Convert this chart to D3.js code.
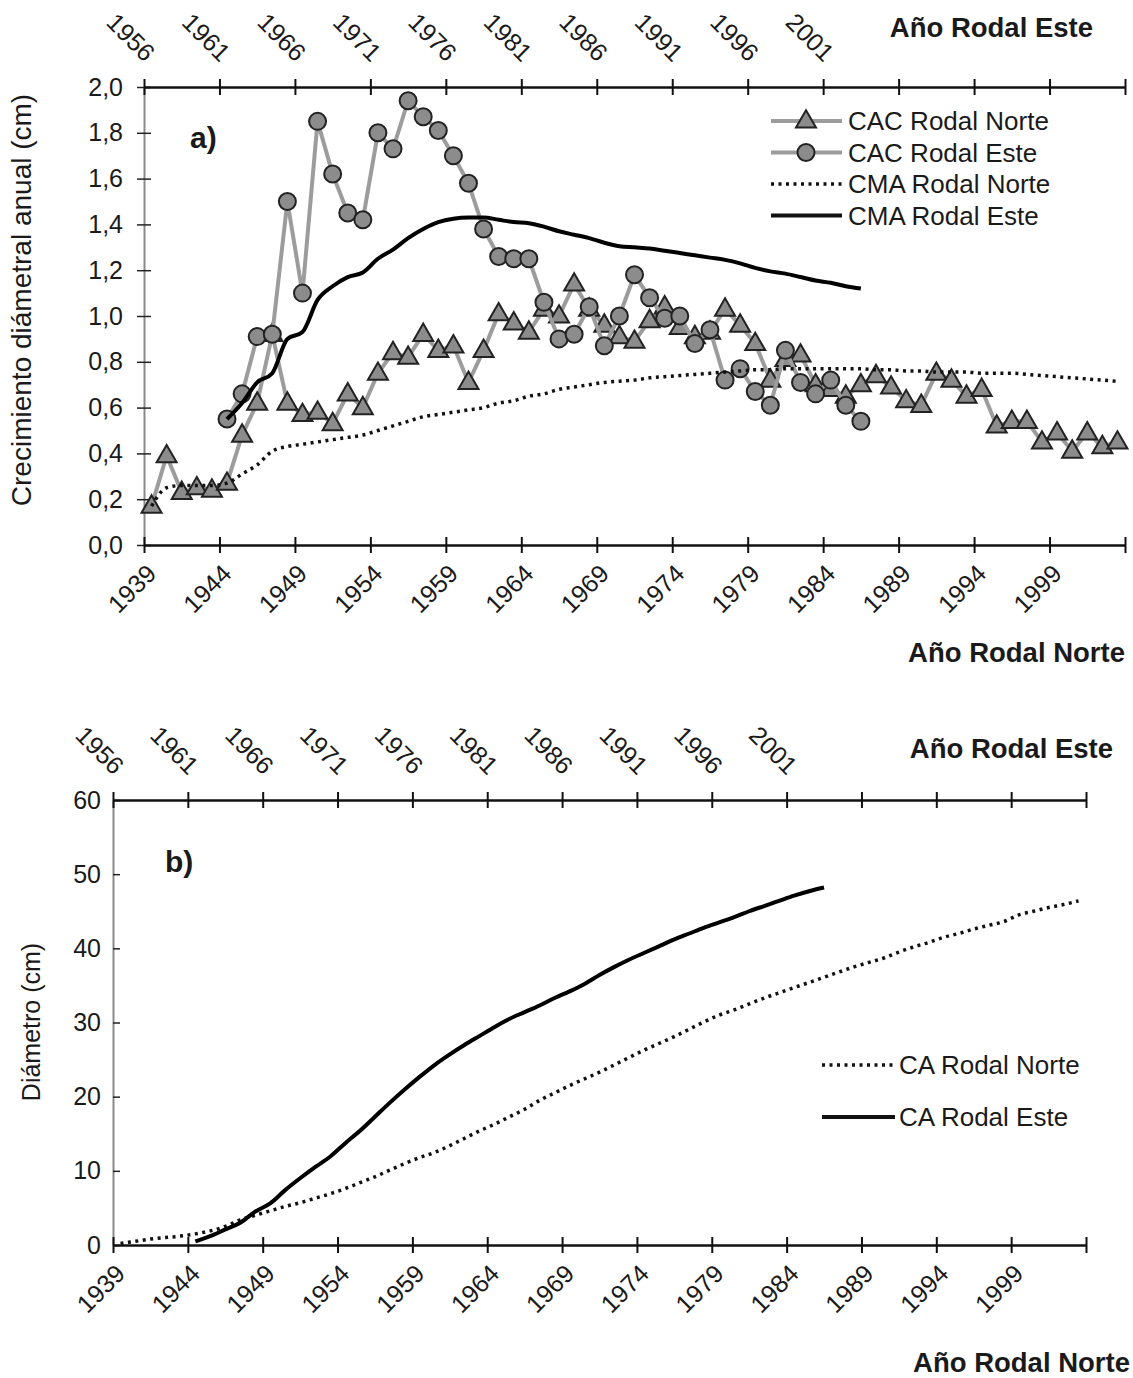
<!DOCTYPE html>
<html>
<head>
<meta charset="utf-8">
<script src="https://cdn.jsdelivr.net/npm/d3@7"></script>
<style>
  body { margin: 0; background: #fff; }
  text { font-family: "Liberation Sans", Arial, sans-serif; fill: #1a1a1a; }
</style>
</head>
<body>
<svg id="chart" width="1133" height="1378"></svg>
<script>
// tick labels of both year axes
var labelsNorte = [1939, 1944, 1949, 1954, 1959, 1964, 1969, 1974, 1979, 1984, 1989, 1994, 1999];
var labelsEste = [1956, 1961, 1966, 1971, 1976, 1981, 1986, 1991, 1996, 2001];
var ticksA = [0, 0.2, 0.4, 0.6, 0.8, 1.0, 1.2, 1.4, 1.6, 1.8, 2.0];
var ticksB = [0, 10, 20, 30, 40, 50, 60];

// first year of each stand
var norteStart = 1939;
var esteStart = 1961;

// CAC: annual diameter growth (cm), Rodal Norte 1939-2003
var cacNorte = [0.17, 0.39, 0.23, 0.25, 0.24, 0.27, 0.48, 0.62, 0.92, 0.62,
  0.57, 0.58, 0.53, 0.66, 0.60, 0.75, 0.84, 0.82, 0.92, 0.85,
  0.87, 0.71, 0.85, 1.01, 0.97, 0.93, 1.03, 1.00, 1.14, 1.03,
  0.96, 0.91, 0.89, 0.98, 1.04, 0.95, 0.91, 0.93, 1.03, 0.96,
  0.88, 0.72, 0.81, 0.83, 0.70, 0.68, 0.65, 0.70, 0.74, 0.69,
  0.63, 0.61, 0.75, 0.72, 0.65, 0.68, 0.52, 0.54, 0.54, 0.45,
  0.49, 0.41, 0.49, 0.43, 0.45];

// CAC Rodal Este 1961-2003
var cacEste = [0.55, 0.66, 0.91, 0.92, 1.50, 1.10, 1.85, 1.62, 1.45, 1.42,
  1.80, 1.73, 1.94, 1.87, 1.81, 1.70, 1.58, 1.38, 1.26, 1.25,
  1.25, 1.06, 0.90, 0.92, 1.04, 0.87, 1.00, 1.18, 1.08, 0.99,
  1.00, 0.88, 0.94, 0.72, 0.77, 0.67, 0.61, 0.85, 0.71, 0.66,
  0.72, 0.61, 0.54];

// CMA: mean annual growth (cm)
var cmaNorte = [0.17, 0.25, 0.26, 0.26, 0.26, 0.27, 0.31, 0.35, 0.41, 0.43,
  0.44, 0.45, 0.46, 0.47, 0.48, 0.50, 0.52, 0.54, 0.56, 0.57,
  0.58, 0.59, 0.60, 0.62, 0.63, 0.65, 0.66, 0.68, 0.69, 0.70,
  0.71, 0.715, 0.72, 0.73, 0.735, 0.74, 0.745, 0.75, 0.755, 0.76,
  0.765, 0.765, 0.77, 0.77, 0.77, 0.77, 0.77, 0.77, 0.765, 0.765,
  0.76, 0.76, 0.755, 0.755, 0.755, 0.75, 0.75, 0.75, 0.745, 0.74,
  0.735, 0.73, 0.725, 0.72, 0.715];

var cmaEste = [0.55, 0.62, 0.71, 0.75, 0.90, 0.93, 1.07, 1.13, 1.17, 1.19,
  1.25, 1.29, 1.34, 1.38, 1.41, 1.425, 1.43, 1.43, 1.42, 1.41,
  1.405, 1.39, 1.37, 1.355, 1.34, 1.32, 1.305, 1.30, 1.295, 1.285,
  1.275, 1.265, 1.255, 1.245, 1.23, 1.21, 1.195, 1.185, 1.17, 1.155,
  1.145, 1.13, 1.12];

// CA: accumulated diameter (cm)
var caNorte = [0.2, 0.5, 0.8, 1.0, 1.2, 1.5, 1.9, 2.5, 3.4, 4.0,
  4.6, 5.2, 5.7, 6.3, 6.9, 7.6, 8.4, 9.2, 10.1, 11.0,
  11.8, 12.5, 13.4, 14.4, 15.4, 16.3, 17.3, 18.3, 19.5, 20.5,
  21.5, 22.4, 23.3, 24.3, 25.3, 26.3, 27.2, 28.1, 29.1, 30.1,
  31.0, 31.7, 32.5, 33.3, 34.0, 34.7, 35.4, 36.1, 36.8, 37.5,
  38.1, 38.7, 39.5, 40.2, 40.8, 41.5, 42.0, 42.6, 43.1, 43.6,
  44.5, 45.0, 45.5, 45.9, 46.4];

var caEste = [0.5, 1.2, 2.1, 3.0, 4.5, 5.6, 7.4, 9.0, 10.5, 11.9,
  13.7, 15.4, 17.3, 19.2, 21.0, 22.7, 24.3, 25.7, 27.0, 28.2,
  29.4, 30.5, 31.4, 32.3, 33.3, 34.2, 35.2, 36.4, 37.5, 38.5,
  39.4, 40.3, 41.2, 42.0, 42.8, 43.5, 44.2, 45.0, 45.7, 46.4,
  47.1, 47.7, 48.2];

var svg = d3.select("#chart");

var lineGrey = "#9c9c9c";
var markFill = "#8c8c8c";
var markStroke = "#222";

function triPath(s) {
  var h = s * 0.87;
  return "M0," + (-h * 0.62) + "L" + (s / 2) + "," + (h * 0.38) + "L" + (-s / 2) + "," + (h * 0.38) + "Z";
}

// one horizontal year axis with crossing ticks and rotated labels
function yearAxis(x, y, domainStart, labels, top) {
  var bounds = [];
  for (var k = 0; k <= 13; k++) bounds.push(domainStart + k * 5);
  var axis = (top ? d3.axisTop(x) : d3.axisBottom(x))
    .tickValues(bounds)
    .tickFormat("")
    .tickSizeOuter(0)
    .tickSizeInner(8);
  var g = svg.append("g")
    .attr("transform", `translate(0, ${y})`)
    .call(axis);
  g.select(".domain").attr("stroke", "#111").attr("stroke-width", 2.5);
  g.selectAll(".tick line").attr("stroke", "#111").attr("stroke-width", 2)
    .attr("y1", top ? 8 : -8);

  svg.append("g").selectAll("text")
    .data(labels)
    .enter()
    .append("text")
    .attr("transform", function(d) {
      var cx = x(d + 0.5);
      return top
        ? `translate(${cx - 1}, ${y - 30}) rotate(45)`
        : `translate(${cx}, ${y + 24}) rotate(-45)`;
    })
    .attr("text-anchor", "end")
    .attr("dy", "0.35em")
    .style("font-size", "25px")
    .text(d => d);
}

function yAxis(y, x0, ticks, fmt, cross) {
  var g = svg.append("g")
    .attr("transform", `translate(${x0}, 0)`)
    .call(d3.axisLeft(y).tickValues(ticks).tickFormat(fmt).tickSizeOuter(0)
      .tickSizeInner(7).tickPadding(cross ? 14 : 5));
  g.select(".domain").attr("stroke", "#8a8a8a").attr("stroke-width", 2);
  g.selectAll(".tick line").attr("stroke", "#222").attr("stroke-width", 1.5)
    .attr("x1", cross ? 7 : 0).attr("x2", cross ? -7 : 7);
  g.selectAll(".tick text").style("font-size", "25px").attr("fill", "#1a1a1a")
    .style("font-family", '"Liberation Sans", Arial, sans-serif');
  return g;
}

// ---------- panel a ----------
var a = { left: 144, right: 1125, top: 87, bottom: 545 };
var xa = d3.scaleLinear().domain([1939, 2004]).range([a.left, a.right]);
var xaTop = d3.scaleLinear().domain([1956, 2021]).range([a.left, a.right]);
var ya = d3.scaleLinear().domain([0, 2]).range([a.bottom, a.top]);

yAxis(ya, a.left, ticksA, d => d.toFixed(1).replace(".", ","), true);
yearAxis(xa, a.bottom, 1939, labelsNorte, false);
yearAxis(xaTop, a.top, 1956, labelsEste, true);

var norteX = (d, i) => xa(norteStart + i + 0.5);
var esteX = (d, i) => xaTop(esteStart + i + 0.5);

var lineNorteA = d3.line().x(norteX).y(d => ya(d));
var lineEsteA = d3.line().x(esteX).y(d => ya(d));

// CAC Rodal Norte
svg.append("path").datum(cacNorte)
  .attr("d", lineNorteA).attr("fill", "none")
  .attr("stroke", lineGrey).attr("stroke-width", 4);
svg.append("g").selectAll("path")
  .data(cacNorte).enter().append("path")
  .attr("d", triPath(20))
  .attr("transform", (d, i) => `translate(${norteX(d, i)}, ${ya(d)})`)
  .attr("fill", markFill).attr("stroke", markStroke).attr("stroke-width", 2);

// CAC Rodal Este
svg.append("path").datum(cacEste)
  .attr("d", lineEsteA).attr("fill", "none")
  .attr("stroke", lineGrey).attr("stroke-width", 4);
svg.append("g").selectAll("circle")
  .data(cacEste).enter().append("circle")
  .attr("cx", esteX).attr("cy", d => ya(d)).attr("r", 8.5)
  .attr("fill", markFill).attr("stroke", markStroke).attr("stroke-width", 2);

// CMA lines
svg.append("path").datum(cmaNorte)
  .attr("d", lineNorteA.curve(d3.curveMonotoneX)).attr("fill", "none")
  .attr("stroke", "#111").attr("stroke-width", 3.5).attr("stroke-dasharray", "3 4.5");
svg.append("path").datum(cmaEste)
  .attr("d", lineEsteA.curve(d3.curveMonotoneX)).attr("fill", "none")
  .attr("stroke", "#000").attr("stroke-width", 4);

svg.append("text").attr("x", 190).attr("y", 148)
  .style("font-size", "30px").style("font-weight", "bold").text("a)");

svg.append("text")
  .attr("transform", "translate(31, 300) rotate(-90)")
  .attr("text-anchor", "middle")
  .style("font-size", "28px")
  .text("Crecimiento diámetral anual (cm)");

svg.append("text").attr("x", 1125).attr("y", 662).attr("text-anchor", "end")
  .style("font-size", "27.5px").style("font-weight", "bold").text("Año Rodal Norte");
svg.append("text").attr("x", 1093).attr("y", 37).attr("text-anchor", "end")
  .style("font-size", "27.5px").style("font-weight", "bold").text("Año Rodal Este");

// legend a
var legA = [
  { name: "CAC Rodal Norte", type: "tri" },
  { name: "CAC Rodal Este", type: "circ" },
  { name: "CMA Rodal Norte", type: "dot" },
  { name: "CMA Rodal Este", type: "solid" }
];
legA.forEach(function(item, i) {
  var cy = 121 + i * 31.5;
  var g = svg.append("g");
  if (item.type === "tri" || item.type === "circ") {
    g.append("line").attr("x1", 771).attr("x2", 842).attr("y1", cy).attr("y2", cy)
      .attr("stroke", lineGrey).attr("stroke-width", 4);
    if (item.type === "tri") {
      g.append("path").attr("d", triPath(20)).attr("transform", `translate(806, ${cy})`)
        .attr("fill", markFill).attr("stroke", markStroke).attr("stroke-width", 2);
    } else {
      g.append("circle").attr("cx", 806).attr("cy", cy).attr("r", 8.5)
        .attr("fill", markFill).attr("stroke", markStroke).attr("stroke-width", 2);
    }
  } else {
    g.append("line").attr("x1", 771).attr("x2", 842).attr("y1", cy).attr("y2", cy)
      .attr("stroke", "#111").attr("stroke-width", item.type === "dot" ? 3.5 : 4)
      .attr("stroke-dasharray", item.type === "dot" ? "3 4.5" : null);
  }
  g.append("text").attr("x", 848).attr("y", cy).attr("dy", "0.35em")
    .style("font-size", "26px").text(item.name);
});

// ---------- panel b ----------
var b = { left: 113, right: 1086, top: 800, bottom: 1245 };
var xb = d3.scaleLinear().domain([1939, 2004]).range([b.left, b.right]);
var xbTop = d3.scaleLinear().domain([1956, 2021]).range([b.left, b.right]);
var yb = d3.scaleLinear().domain([0, 60]).range([b.bottom, b.top]);

yAxis(yb, b.left, ticksB, d => d, false);
yearAxis(xb, b.bottom, 1939, labelsNorte, false);
yearAxis(xbTop, b.top, 1956, labelsEste, true);

svg.append("path").datum(caNorte)
  .attr("d", d3.line().x((d, i) => xb(norteStart + i + 0.5)).y(d => yb(d)).curve(d3.curveMonotoneX))
  .attr("fill", "none").attr("stroke", "#111").attr("stroke-width", 3.5)
  .attr("stroke-dasharray", "3 4.5");
svg.append("path").datum(caEste)
  .attr("d", d3.line().x((d, i) => xbTop(esteStart + i + 0.5)).y(d => yb(d)).curve(d3.curveMonotoneX))
  .attr("fill", "none").attr("stroke", "#000").attr("stroke-width", 4);

svg.append("text").attr("x", 165).attr("y", 872)
  .style("font-size", "30px").style("font-weight", "bold").text("b)");

svg.append("text")
  .attr("transform", "translate(40, 1022) rotate(-90)")
  .attr("text-anchor", "middle")
  .style("font-size", "25px")
  .text("Diámetro (cm)");

svg.append("text").attr("x", 1130).attr("y", 1372).attr("text-anchor", "end")
  .style("font-size", "27.5px").style("font-weight", "bold").text("Año Rodal Norte");
svg.append("text").attr("x", 1113).attr("y", 758).attr("text-anchor", "end")
  .style("font-size", "27.5px").style("font-weight", "bold").text("Año Rodal Este");

// legend b
[{ name: "CA Rodal Norte", dot: true, cy: 1065 }, { name: "CA Rodal Este", dot: false, cy: 1117 }]
  .forEach(function(item) {
    svg.append("line").attr("x1", 822).attr("x2", 895).attr("y1", item.cy).attr("y2", item.cy)
      .attr("stroke", "#111").attr("stroke-width", item.dot ? 3.5 : 4)
      .attr("stroke-dasharray", item.dot ? "3 4.5" : null);
    svg.append("text").attr("x", 899).attr("y", item.cy).attr("dy", "0.35em")
      .style("font-size", "26px").text(item.name);
  });
</script>
</body>
</html>
